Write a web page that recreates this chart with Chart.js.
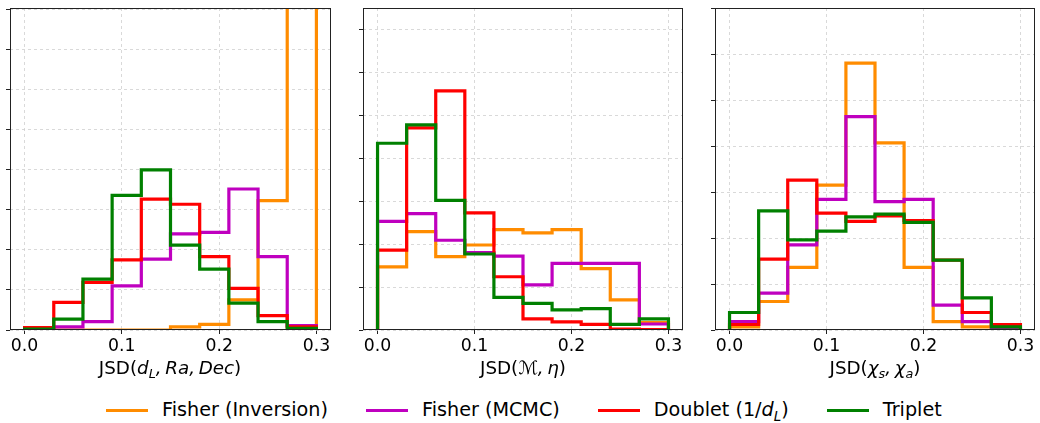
<!DOCTYPE html>
<html>
<head>
<meta charset="utf-8">
<script src="https://cdn.jsdelivr.net/npm/chart.js@4.4.0/dist/chart.umd.min.js"></script>
<style>
  body{margin:0;background:#fff;width:1040px;height:423px;position:relative;overflow:hidden;font-family:'DejaVu Sans',sans-serif;color:#000;}
  canvas{position:absolute;top:0;}
  .xlab{position:absolute;top:357px;width:300px;font-size:18.3px;line-height:22px;text-align:center;white-space:nowrap;}
  sub{font-size:70%;vertical-align:-0.35em;line-height:0;}
  #legend{position:absolute;top:399px;left:106px;display:flex;align-items:center;font-size:19.2px;line-height:22px;white-space:nowrap;}
  #legend .sw{display:inline-block;width:42px;height:3px;margin-right:14px;}
  #legend .it{display:flex;align-items:center;margin-right:38px;}
</style>
</head>
<body>
<canvas id="c1" width="340" height="365" style="left:0px"></canvas>
<canvas id="c2" width="340" height="365" style="left:353px"></canvas>
<canvas id="c3" width="335" height="365" style="left:705px"></canvas>
<div class="xlab" style="left:20px">JSD(<i>d<sub>L</sub>,&thinsp;Ra,&thinsp;Dec</i>)</div>
<div class="xlab" style="left:373px">JSD(<i>ℳ,&thinsp;η</i>)</div>
<div class="xlab" style="left:725px">JSD(<i>χ<sub>s</sub>,&thinsp;χ<sub>a</sub></i>)</div>
<div id="legend"></div>
<script>
// histogram bins shared by all three panels
const binEdges = [0, 0.03, 0.06, 0.09, 0.12, 0.15, 0.18, 0.21, 0.24, 0.27, 0.3];
const xTicks = [0, 0.1, 0.2, 0.3];

const seriesNames = ['Fisher (Inversion)', 'Fisher (MCMC)', 'Doublet (1/<i>d<sub>L</sub></i>)', 'Triplet'];
const seriesColors = ['#ff8c00', '#bf00bf', '#ff0000', '#008000'];

// panel 1: JSD(d_L, Ra, Dec)  (last orange bin runs off the top)
const lumInv     = [0, 0, 0, 0, 0, 0.08, 0.14, 0.75, 3.23, 20];
const lumMcmc    = [0, 0.08, 0.21, 1.1, 1.77, 2.4, 2.44, 3.52, 1.83, 0.11];
const lumDoublet = [0.06, 0.69, 1.19, 1.75, 3.27, 3.14, 1.83, 1.04, 0.36, 0.08];
const lumTriplet = [0.02, 0.27, 1.27, 3.36, 4.0, 2.12, 1.52, 0.67, 0.21, 0.04];
const lumYTicks  = [0, 1, 2, 3, 4, 5, 6, 7, 8];

// panel 2: JSD(M, eta)
const massInv     = [1.47, 2.29, 1.71, 1.98, 2.34, 2.26, 2.34, 1.43, 0.70, 0.17];
const massMcmc    = [2.53, 2.71, 2.09, 1.8, 1.72, 1.05, 1.55, 1.55, 1.55, 0.14];
const massDoublet = [1.86, 4.71, 5.57, 2.73, 1.24, 0.26, 0.19, 0.13, 0.02, 0.01];
const massTriplet = [4.35, 4.78, 3.02, 1.77, 0.76, 0.62, 0.47, 0.5, 0.13, 0.26];
const massYTicks  = [0, 1, 2, 3, 4, 5, 6, 7];

// panel 3: JSD(chi_s, chi_a)
const spinInv     = [0.07, 0.62, 1.36, 3.15, 5.8, 4.07, 1.36, 0.18, 0.07, 0.01];
const spinMcmc    = [0.18, 0.8, 1.85, 2.84, 4.64, 2.79, 2.84, 0.54, 0.18, 0.02];
const spinDoublet = [0.12, 1.54, 3.26, 2.54, 2.36, 2.48, 2.38, 1.52, 0.38, 0.12];
const spinTriplet = [0.38, 2.59, 1.96, 2.15, 2.46, 2.52, 2.34, 1.52, 0.7, 0.07];
const spinYTicks  = [0, 1, 2, 3, 4, 5, 6, 7];

// outline of a step histogram: up at the first edge, across each bin, down at the last edge
function stepPoints(h){
  const n = h.length;
  const pts = [{x: binEdges[0], y: 0}];
  h.forEach((v, i) => pts.push({x: binEdges[i], y: v}));
  pts.push({x: binEdges[n], y: h[n-1]});
  pts.push({x: binEdges[n], y: 0});
  return pts;
}

const frame = {
  id: 'frame',
  afterDatasetsDraw(chart){
    const a = chart.chartArea, ctx = chart.ctx;
    ctx.save();
    ctx.strokeStyle = '#222';
    ctx.lineWidth = 1;
    ctx.strokeRect(Math.round(a.left) + 0.5, Math.round(a.top) + 0.5,
                   Math.round(a.right - a.left) - 1, Math.round(a.bottom - a.top) - 1);
    ctx.restore();
  }
};

const gridOpts = {color: '#d0d0d0', lineWidth: 0.8, drawTicks: true, tickLength: 4,
                  tickColor: '#222', tickWidth: 1, tickBorderDash: []};

function makePanel(id, series, yTicks, yMax, padRight){
  const datasets = series.map((h, i) => ({
    label: 's' + i,
    data: stepPoints(h),
    borderColor: seriesColors[i],
    borderWidth: 3.2,
    stepped: true,
    pointRadius: 0,
    fill: false,
    clip: 0,
    order: series.length - i
  }));
  return new Chart(document.getElementById(id), {
    type: 'line',
    data: {datasets},
    options: {
      responsive: false, animation: false, events: [],
      layout: {padding: {left: 0, top: 8, right: padRight, bottom: 0}},
      plugins: {legend: {display: false}, tooltip: {enabled: false}},
      scales: {
        x: {
          type: 'linear', min: -0.015, max: 0.315,
          afterBuildTicks: s => { s.ticks = xTicks.map(v => ({value: v})); },
          afterFit: s => { s.height = 35; },
          ticks: {callback: v => v.toFixed(1), color: '#000', padding: 2, maxRotation: 0, autoSkip: false,
                  font: {family: 'DejaVu Sans', size: 17.3}},
          grid: gridOpts,
          border: {display: false, dash: [3, 3]}
        },
        y: {
          type: 'linear', min: 0, max: yMax,
          afterBuildTicks: s => { s.ticks = yTicks.map(v => ({value: v})); },
          afterFit: s => { s.width = 10; },
          ticks: {display: false},
          grid: gridOpts,
          border: {display: false, dash: [3, 3]}
        }
      }
    },
    plugins: [frame]
  });
}

makePanel('c1', [lumInv, lumMcmc, lumDoublet, lumTriplet], lumYTicks, 8.04, 9);
makePanel('c2', [massInv, massMcmc, massDoublet, massTriplet], massYTicks, 7.5, 10);
makePanel('c3', [spinInv, spinMcmc, spinDoublet, spinTriplet], spinYTicks, 7.0, 5);

const lg = document.getElementById('legend');
seriesNames.forEach((name, i) => {
  const it = document.createElement('div');
  it.className = 'it';
  it.innerHTML = '<span class="sw" style="background:' + seriesColors[i] + '"></span><span>' + name + '</span>';
  lg.appendChild(it);
});
</script>
</body>
</html>
